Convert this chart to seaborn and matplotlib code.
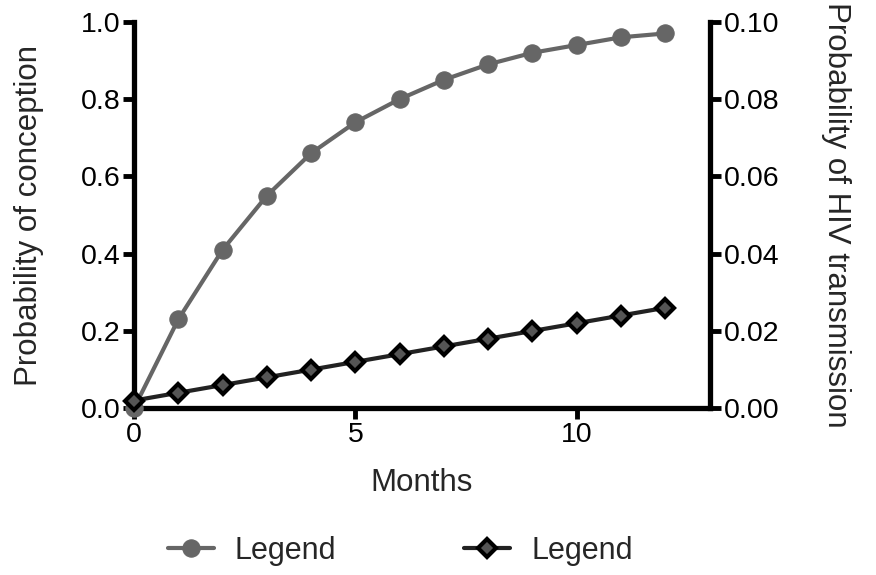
import matplotlib
matplotlib.use('Agg')
import matplotlib.pyplot as plt
import seaborn as sns
import pandas as pd

months = [0, 1, 2, 3, 4, 5, 6, 7, 8, 9, 10, 11, 12]
p_conception = [0.0, 0.23, 0.41, 0.55, 0.66, 0.74, 0.80, 0.85, 0.89, 0.92, 0.94, 0.96, 0.97]
p_hiv = [0.002, 0.004, 0.006, 0.008, 0.010, 0.012, 0.014, 0.016, 0.018, 0.020, 0.022, 0.024, 0.026]
legend_labels = ['Legend', 'Legend']

df = pd.DataFrame({'Months': months, 'conception': p_conception, 'hiv': p_hiv})

sns.set_theme(style='ticks')
plt.rcParams['font.family'] = ['Liberation Sans', 'DejaVu Sans']

fig = plt.figure(figsize=(8.76, 5.75), dpi=100)
ax = fig.add_axes([0.153, 0.29, 0.657, 0.672])
ax2 = ax.twinx()

gray = '#666666'
sns.lineplot(data=df, x='Months', y='conception', ax=ax, color=gray, linewidth=3,
             marker='o', markersize=12.5, markeredgecolor=gray, label=legend_labels[0],
             legend=False, clip_on=False, zorder=3)
sns.lineplot(data=df, x='Months', y='hiv', ax=ax2, color='#222222', linewidth=3,
             marker='D', markersize=9, markerfacecolor='#555555', markeredgecolor='black',
             markeredgewidth=3, label=legend_labels[1], legend=False, clip_on=False, zorder=4)

ax.set_xlim(0, 13)
ax.set_ylim(0, 1.0)
ax2.set_ylim(0, 0.10)
ax.set_xticks([0, 5, 10])
ax.set_yticks([0, 0.2, 0.4, 0.6, 0.8, 1.0])
ax.set_yticklabels(['0.0', '0.2', '0.4', '0.6', '0.8', '1.0'])
ax2.set_yticks([0, 0.02, 0.04, 0.06, 0.08, 0.10])
ax2.set_yticklabels(['0.00', '0.02', '0.04', '0.06', '0.08', '0.10'])

for a in (ax, ax2):
    for s in a.spines.values():
        s.set_linewidth(3.8)
        s.set_color('black')
    a.spines['top'].set_visible(False)
    a.tick_params(axis='both', length=8, width=3.5, pad=2, labelsize=20.5, colors='black')
ax.spines['right'].set_visible(False)
ax2.spines['left'].set_visible(False)
ax2.spines['bottom'].set_visible(False)

ax.set_xlabel('Months', fontsize=22.5, labelpad=14)
ax.set_ylabel('Probability of conception', fontsize=22.5, labelpad=26)
ax2.set_ylabel('Probability of HIV transmission', fontsize=22.5, rotation=270, labelpad=52)

h1, l1 = ax.get_legend_handles_labels()
h2, l2 = ax2.get_legend_handles_labels()
fig.legend(h1 + h2, l1 + l2, loc='center', bbox_to_anchor=(0.457, 0.042), ncol=2,
           frameon=False, fontsize=22, columnspacing=4.2, handlelength=1.5, handletextpad=0.68)

fig.savefig('out.png', dpi=100)
